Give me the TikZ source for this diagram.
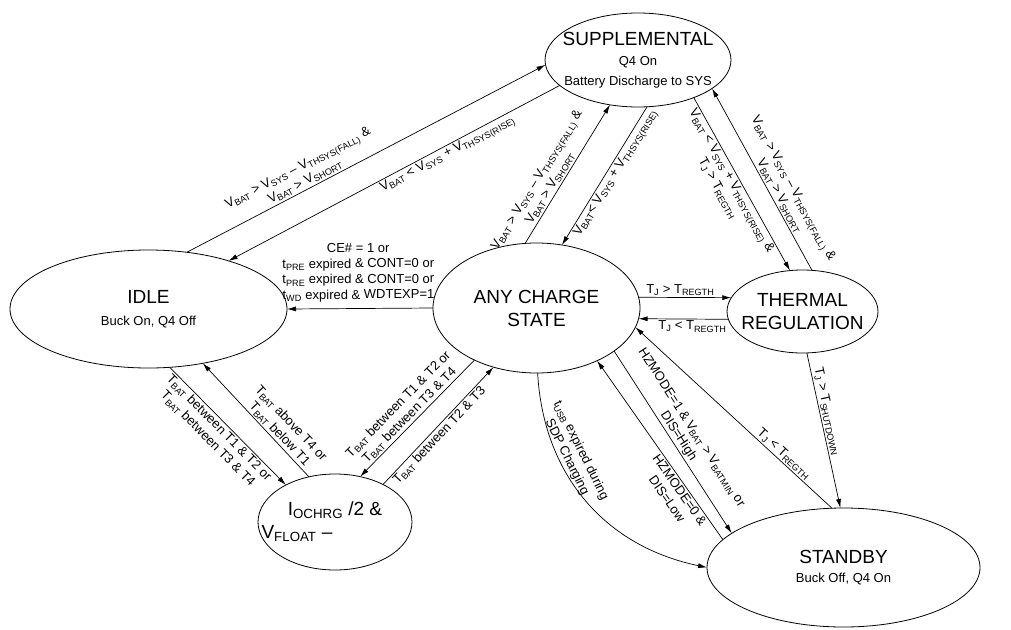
\documentclass[tikz,border=0pt]{standalone}
\usepackage{fontspec}
\setmainfont{Liberation Sans}
\usetikzlibrary{shapes.geometric,arrows.meta}
\newcommand{\sbs}[1]{\textsubscript{#1}}
\newcommand{\titlesize}{\fontsize{19}{23}\selectfont}

\begin{document}
\begin{tikzpicture}
[x=1pt, y=-1pt,
  stateDecorate/.style={shape=ellipse, draw, line width=0.8pt, inner sep=-15pt,
    outer sep=0pt, align=center, font=\fontsize{13}{20}\selectfont},
  lineDecorate/.style={draw, -{Latex[length=9pt,width=5pt]}, line width=0.7pt},
  labelDecorate/.style={sloped, align=center, inner sep=1.5pt,
    font=\fontsize{13}{15.5}\selectfont}]
\useasboundingbox (0,0) rectangle (1011,629);
%% states
\node (supp) at (638,60) [stateDecorate, minimum width=186pt, minimum height=94pt]
  {{\titlesize SUPPLEMENTAL}\\ Q4 On\\ Battery Discharge to SYS};
\node (idle) at (148.5,309) [stateDecorate, minimum width=277pt, minimum height=118pt]
  {{\titlesize IDLE}\\[2pt] Buck On, Q4 Off};
\node (any) at (536.5,308) [stateDecorate, minimum width=207pt, minimum height=130pt,
  font=\titlesize] {ANY CHARGE\\ STATE};
\node (therm) at (802.5,311.5) [stateDecorate, minimum width=151pt, minimum height=83pt,
  font=\titlesize] {THERMAL\\ REGULATION};
\node (stby) at (843.5,567.5) [stateDecorate, minimum width=273pt, minimum height=119pt]
  {{\titlesize STANDBY}\\[-1pt] Buck Off, Q4 On};
\node (ioc) at (335,522) [stateDecorate, minimum width=154pt, minimum height=96pt,
  font=\titlesize] {I\sbs{OCHRG} /2 \&\\ \hspace*{-76pt}V\sbs{FLOAT} --};
%% transitions
\path
\foreach \startnode/\endnode/\where/\side/\condition in {
  idle.56/supp.183/0.34/above/{V\sbs{BAT} > V\sbs{SYS} -- V\sbs{THSYS(FALL)} \&\\ V\sbs{BAT} > V\sbs{SHORT}},
  supp.-162/idle.31/0.35/below/{V\sbs{BAT} < V\sbs{SYS} + V\sbs{THSYS(RISE)}},
  any.100/supp.-122/0.37/above/{V\sbs{BAT} > V\sbs{SYS} -- V\sbs{THSYS(FALL)} \&\\ V\sbs{BAT} > V\sbs{SHORT}},
  supp.-79/any.68/0.45/below/{V\sbs{BAT}< V\sbs{SYS} + V\sbs{THSYS(RISE)}},
  supp.-34/therm.107/0.46/below/{V\sbs{BAT} < V\sbs{SYS} + V\sbs{THSYS(RISE)} \&\\ T\sbs{J} > T\sbs{REGTH}},
  therm.77/supp.-21/0.39/above/{V\sbs{BAT} > V\sbs{SYS} -- V\sbs{THSYS(FALL)} \&\\ V\sbs{BAT} > V\sbs{SHORT}},
  any.6/therm.169/0.45/above/{T\sbs{J} > T\sbs{REGTH}},
  therm.186/any.-6/0.4/below/{T\sbs{J} < T\sbs{REGTH}},
  therm.-84/stby.93/0.39/above/{T\sbs{J} > T\sbs{SHUTDOWN}},
  stby.101/any.-11/0.27/above/{T\sbs{J} < T\sbs{REGTH}},
  any.-29/stby.163/0.49/above/{HZMODE=1 \& V\sbs{BAT} > V\sbs{BATMIN} or\\ DIS=High},
  stby.167/any.-41/0.30/below/{HZMODE=0 \&\\ DIS=Low},
  idle.-70/ioc.143/0.47/below/{T\sbs{BAT} between T1 \& T2 or\\ T\sbs{BAT} between T3 \& T4},
  ioc.120/idle.-45/0.33/above/{T\sbs{BAT} above T4 or\\ T\sbs{BAT} below T1},
  any.220/ioc.61/0.52/above/{T\sbs{BAT} between T1 \& T2 or\\ T\sbs{BAT} between T3 \& T4},
  ioc.38/any.234/0.46/below/{T\sbs{BAT} between T2 \& T3}}
{
  (\startnode) edge[lineDecorate] node[labelDecorate, pos=\where, \side] {\condition} (\endnode)
};
\draw[lineDecorate] (any.west) -- (idle.east)
  node[labelDecorate, pos=0.51, above=5pt] {CE\# = 1 or\\ t\sbs{PRE} expired \& CONT=0 or\\
  t\sbs{PRE} expired \& CONT=0 or\\ t\sbs{WD} expired \& WDTEXP=1};
\draw[lineDecorate] (any.-89) .. controls (543,470) and (600,545) .. (stby.180)
  node[labelDecorate, pos=0.33, above] {t\sbs{USB} expired during\\ SDP Charging};
\end{tikzpicture}
\end{document}
